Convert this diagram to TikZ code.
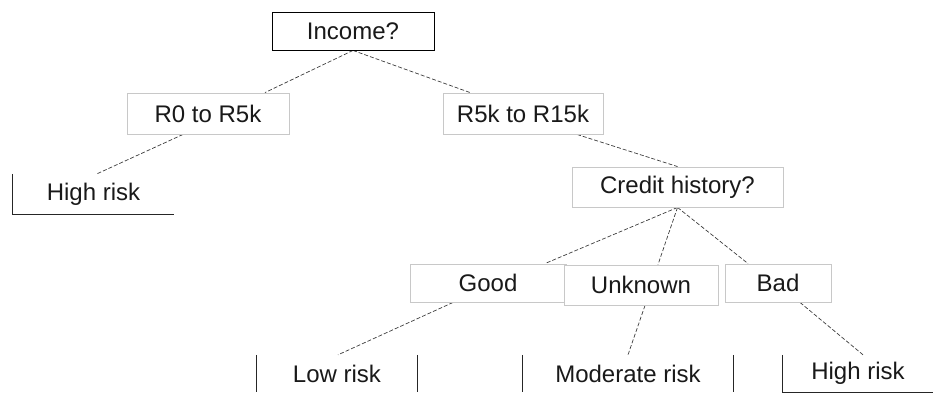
\documentclass[tikz,border=0pt]{standalone}
\usepackage{fontspec}
\setmainfont{Liberation Sans}
\usetikzlibrary{backgrounds}
\definecolor{boxgray}{RGB}{200,200,200}
\definecolor{linegray}{RGB}{60,60,60}
\begin{document}
\begin{tikzpicture}[x=1pt,y=-1pt,
  every node/.style={font=\fontsize{24}{28}\selectfont, text=black!90, inner sep=0pt},
  blackbox/.style={draw=black, line width=0.9pt, fill=white, rectangle},
  graybox/.style={draw=boxgray, line width=0.9pt, fill=white, rectangle},
  leaf/.style={rectangle},
  leafline/.style={draw=black!85, line width=0.9pt},
  conn/.style={draw=linegray, line width=0.7pt, dash pattern=on 4pt off 2pt}]
\useasboundingbox (0,0) rectangle (933,393);
\node[blackbox, minimum width=162pt, minimum height=38pt] (inc) at (353,31) {Income?};
\node[graybox, minimum width=162pt, minimum height=41pt] (r0) at (208,113.5) {R0 to R5k};
\node[graybox, minimum width=160pt, minimum height=41pt] (r5) at (523,113.5) {R5k to R15k};
\node[graybox, minimum width=211pt, minimum height=40pt] (cred) at (677.5,187) {Credit history?};
\node[graybox, minimum width=156pt, minimum height=38pt] (good) at (488,283) {Good};
\node[graybox, minimum width=154pt, minimum height=40pt] (unk) at (641,285) {Unknown};
\node[graybox, minimum width=106pt, minimum height=38pt] (bad) at (778,283) {Bad};
\node[leaf, minimum width=161pt, minimum height=40pt] (hr1) at (93.5,194) {High risk};
\node[leaf, minimum width=160pt, minimum height=37pt] (low) at (337,373.5) {Low risk};
\node[leaf, minimum width=210pt, minimum height=37pt] (mod) at (628,373.5) {Moderate risk};
\node[leaf, minimum width=150pt, minimum height=37pt] (hr2) at (858,373.5) {High risk};
\draw[leafline] (hr1.north west) -- (hr1.south west) -- (hr1.south east);
\draw[leafline] (low.north west) -- (low.south west);
\draw[leafline] (low.north east) -- (low.south east);
\draw[leafline] (mod.north west) -- (mod.south west);
\draw[leafline] (mod.north east) -- (mod.south east);
\draw[leafline] (hr2.north west) -- (hr2.south west) -- (hr2.south east);
\begin{scope}[on background layer]
\draw[conn] (inc.south) -- ([xshift=57pt]r0.north);
\draw[conn] (inc.south) -- ([xshift=-53pt]r5.north);
\draw[conn] ([xshift=-25pt]r0.south) -- ([xshift=3.5pt]hr1.north);
\draw[conn] ([xshift=54pt]r5.south) -- (cred.north);
\draw[conn] (cred.south) -- ([xshift=57pt]good.north);
\draw[conn] (cred.south) -- ([xshift=17pt]unk.north);
\draw[conn] (cred.south) -- ([xshift=-30pt]bad.north);
\draw[conn] ([xshift=-35pt]good.south) -- ([xshift=1pt]low.north);
\draw[conn] ([xshift=4pt]unk.south) -- (mod.north);
\draw[conn] ([xshift=22pt]bad.south) -- ([xshift=5pt]hr2.north);
\end{scope}
\end{tikzpicture}
\end{document}
